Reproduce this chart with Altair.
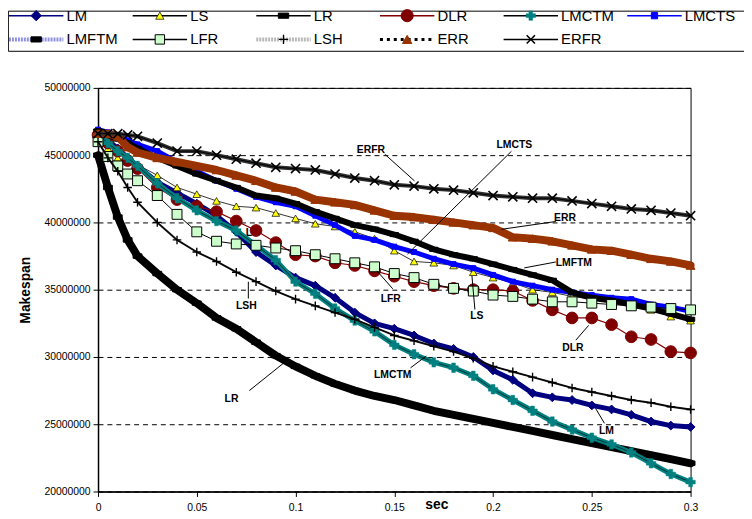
import altair as alt
import pandas as pd

FONT = "Liberation Sans"

# time (sec)
T = [0, 0.005, 0.01, 0.015, 0.02, 0.03, 0.04, 0.05, 0.06, 0.07, 0.08, 0.09, 0.10,
     0.11, 0.12, 0.13, 0.14, 0.15, 0.16, 0.17, 0.18, 0.19, 0.20, 0.21, 0.22, 0.23,
     0.24, 0.25, 0.26, 0.27, 0.28, 0.29, 0.30]

# makespan, in millions
LM = [46.7, 46.1, 45.5, 44.8, 44.2, 43.0, 42.2, 41.4, 40.5, 39.3, 37.8, 36.8, 35.9,
      35.3, 34.4, 33.3, 32.5, 32.1, 31.6, 31.0, 30.6, 30.0, 29.0, 28.3, 27.3, 27.0,
      26.8, 26.4, 26.1, 25.7, 25.2, 24.9, 24.8]
LS = [46.3, 45.5, 44.8, 44.5, 44.3, 43.5, 42.6, 42.1, 41.6, 41.2, 41.1, 40.7, 40.3,
      39.9, 39.7, 39.3, 38.8, 37.9, 37.1, 37.0, 36.8, 36.3, 35.9, 35.5, 35.0, 34.8,
      34.5, 34.3, 34.1, 33.8, 33.5, 33.0, 32.7]
LR = [45.0, 42.6, 40.4, 38.7, 37.5, 36.2, 35.0, 34.0, 32.9, 32.1, 31.1, 30.1, 29.3,
      28.6, 28.0, 27.5, 27.1, 26.8, 26.4, 26.0, 25.7, 25.4, 25.1, 24.8, 24.5, 24.2,
      23.9, 23.6, 23.3, 23.0, 22.7, 22.4, 22.1]
DLR = [46.5, 45.9, 45.3, 44.6, 44.0, 42.6, 41.7, 41.2, 40.8, 40.1, 39.4, 38.5, 37.6,
       37.5, 37.0, 36.8, 36.4, 36.0, 35.6, 35.3, 35.1, 35.0, 35.0, 34.9, 34.2, 33.5,
       32.9, 32.9, 32.4, 31.5, 31.3, 30.4, 30.3]
LMCTM = [46.5, 45.9, 45.3, 44.8, 44.2, 42.9, 41.8, 40.9, 40.1, 39.4, 38.3, 37.2, 35.6,
         34.7, 33.6, 32.7, 31.9, 30.9, 30.2, 29.6, 29.2, 28.6, 27.6, 26.8, 26.0, 25.2,
         24.6, 24.0, 23.5, 22.9, 22.1, 21.3, 20.7]
LMCTS = [46.9, 46.7, 46.4, 46.1, 45.8, 45.3, 44.5, 43.8, 43.1, 42.5, 41.9, 41.5, 41.2,
         40.5, 39.8, 39.0, 38.7, 38.2, 37.8, 37.3, 36.9, 36.6, 36.1, 35.6, 35.3, 35.0,
         34.8, 34.6, 34.4, 34.3, 33.9, 33.7, 33.4]
LMFTM = [46.8, 46.5, 46.2, 45.9, 45.5, 44.8, 44.2, 43.6, 43.1, 42.6, 42.0, 41.8, 41.4,
         40.8, 40.3, 39.8, 39.5, 39.1, 38.6, 38.0, 37.6, 37.3, 36.9, 36.5, 36.1, 35.7,
         34.8, 34.4, 34.2, 33.9, 33.6, 33.2, 32.8]
LFR = [46.0, 44.9, 44.2, 43.6, 43.1, 42.0, 40.6, 39.3, 38.6, 38.4, 38.3, 38.1, 37.9,
       37.6, 37.3, 37.0, 36.7, 36.2, 35.9, 35.4, 35.1, 34.9, 34.6, 34.5, 34.3, 34.1,
       34.1, 34.0, 33.9, 33.8, 33.7, 33.6, 33.5]
LSH = [46.0, 44.8, 43.8, 42.6, 41.5, 40.0, 38.7, 37.8, 37.1, 36.3, 35.6, 34.9, 34.3,
       33.8, 33.3, 32.8, 32.2, 31.6, 31.2, 30.8, 30.4, 29.9, 29.3, 28.9, 28.5, 28.1,
       27.7, 27.4, 27.1, 26.8, 26.6, 26.3, 26.1]
ERR = [46.6, 46.6, 46.4, 45.6, 45.2, 44.8, 44.5, 44.2, 43.9, 43.5, 43.1, 42.6, 42.3,
       41.7, 41.5, 41.3, 40.9, 40.5, 40.4, 40.2, 40.0, 39.8, 39.6, 38.9, 38.8, 38.6,
       38.3, 38.0, 37.9, 37.6, 37.3, 37.1, 36.8]
ERFR = [46.6, 46.6, 46.6, 46.5, 46.4, 45.9, 45.3, 45.3, 45.0, 44.7, 44.4, 44.1, 44.0,
        43.9, 43.6, 43.3, 43.1, 42.8, 42.7, 42.5, 42.4, 42.2, 42.0, 41.9, 41.8, 41.8,
        41.6, 41.4, 41.2, 41.0, 40.9, 40.7, 40.5]

SERIES = ["LM", "LS", "LR", "DLR", "LMCTM", "LMCTS", "LMFTM", "LFR", "LSH", "ERR", "ERFR"]
VALUES = [LM, LS, LR, DLR, LMCTM, LMCTS, LMFTM, LFR, LSH, ERR, ERFR]

X_TICKS = [0, 0.05, 0.1, 0.15, 0.2, 0.25, 0.3]
Y_TICKS = [20000000, 25000000, 30000000, 35000000, 40000000, 45000000, 50000000]

# in-plot labels (position in sec / millions) and their leader lines
ANN_LABELS = ["ERFR", "LMCTS", "ERR", "LMFTM", "LS", "LFR", "DLR", "LSH", "LR", "LMCTM", "LM"]
ANN_T = [0.1382, 0.2108, 0.2364, 0.2409, 0.1918, 0.1482, 0.2404, 0.0751, 0.0676, 0.1492, 0.2574]
ANN_V = [45.37, 45.74, 40.29, 36.99, 33.02, 34.34, 30.66, 33.75, 26.91, 28.68, 24.49]
LEAD_T1 = [0.1452, 0.2093, 0.2318, 0.2318, 0.1908, 0.1492, 0.2419, 0.0761, 0.0766, 0.1582, 0.2564]
LEAD_V1 = [45.07, 45.29, 40.07, 37.06, 33.53, 35.07, 31.25, 34.34, 27.50, 29.19, 25.07]
LEAD_T2 = [0.1602, 0.1567, 0.2043, 0.2158, 0.1893, 0.1412, 0.2484, 0.0761, 0.0941, 0.1662, 0.2519]
LEAD_V2 = [43.09, 37.65, 39.49, 36.62, 36.03, 36.40, 32.35, 35.59, 29.56, 30.07, 26.18]
HIDDEN_LABEL = ["LS"]
HIDDEN_T = [0.0781]
HIDDEN_V = [39.19]

X_PATH = "M-1,-1L1,1M-1,1L1,-1"
PLUS_PATH = "M-1,0L1,0M0,-1L0,1"
RECT_PATH = "M-1,-0.5L1,-0.5L1,0.5L-1,0.5Z"

STYLE = {
    "LM": dict(band="#000080", bw=5, line="#000080", lw=1, shape="diamond", fill="#000080",
               stroke="#000080", size=80, sw=1, lcol="#000080", lwid=1.5, ldash=None, lsize=110),
    "LS": dict(band=None, line="black", lw=0.8, shape="triangle-up", fill="#FFFF00",
               stroke="black", size=60, sw=0.7, lcol="black", lwid=1.5, ldash=None, lsize=70),
    "LR": dict(band="black", bw=8, line="black", lw=1, shape=RECT_PATH, fill="black",
               stroke="black", size=80, sw=1, lcol="black", lwid=1.5, ldash=None, lsize=110),
    "DLR": dict(band=None, line="#800000", lw=1.2, shape="circle", fill="#800000",
                stroke="#800000", size=140, sw=1, lcol="#800000", lwid=1.5, ldash=None, lsize=150),
    "LMCTM": dict(band="#008080", bw=5, line="black", lw=0.6, shape="cross", fill="#008080",
                  stroke="#008080", size=90, sw=0.5, lcol="black", lwid=1.5, ldash=None, lsize=90),
    "LMCTS": dict(band="#0000FF", bw=5, line="#0000FF", lw=1, shape="square", fill="#0000FF",
                  stroke="#0000FF", size=25, sw=1, lcol="#0000FF", lwid=1.5, ldash=None, lsize=40),
    "LMFTM": dict(band="black", bw=6, line="black", lw=1, shape=RECT_PATH, fill="black",
                  stroke="black", size=70, sw=1, lcol="#9090E0", lwid=4, ldash=[2, 1], lsize=110),
    "LFR": dict(band=None, line="black", lw=1, shape="square", fill="#CCFFCC",
                stroke="black", size=100, sw=1, lcol="black", lwid=1.5, ldash=None, lsize=90),
    "LSH": dict(band="#202020", bw=2, line="black", lw=1, shape=PLUS_PATH, fill=None,
                stroke="black", size=75, sw=1.4, lcol="#B8B8B8", lwid=4, ldash=[2, 1], lsize=90),
    "ERR": dict(band="#993300", bw=8, line="#993300", lw=1, shape="triangle-up", fill="#993300",
                stroke="#993300", size=80, sw=1, lcol="black", lwid=3, ldash=[3, 4], lsize=90),
    "ERFR": dict(band="#303030", bw=4, line="black", lw=1, shape=X_PATH, fill=None,
                 stroke="black", size=85, sw=1.6, lcol="black", lwid=1.5, ldash=None, lsize=70),
}

XS = alt.Scale(domain=[0, 0.3], nice=False, zero=False)
YS = alt.Scale(domain=[20000000, 50000000], nice=False, zero=False)

x_axis = alt.Axis(values=X_TICKS, format="~g", grid=False, tickSize=5, tickColor="black",
                  labelFontSize=10.5, labelColor="black", labelFont=FONT, labelPadding=6,
                  labelFlush=False, domainColor="black", domainWidth=1.5, title="sec",
                  titleFont=FONT, titleFontSize=14, titleFontWeight="bold", titleColor="black",
                  titleX=342, titleY=13, titleBaseline="middle", titleAlign="center")
y_axis = alt.Axis(values=Y_TICKS, format="d", grid=True, gridColor="black", gridDash=[5, 4],
                  gridWidth=1, tickSize=5, tickColor="black", labelFontSize=10.5,
                  labelColor="black", labelFont=FONT, labelPadding=3, domainColor="black",
                  domainWidth=1.5, title="Makespan", titleFont=FONT, titleFontSize=14,
                  titleFontWeight="bold", titleColor="black", titleX=-73, titleY=204,
                  titleBaseline="middle", titleAlign="center", titleAngle=270)


def xy(tf="t", vf="v"):
    return dict(x=alt.X(f"{tf}:Q", scale=XS, axis=x_axis),
                y=alt.Y(f"{vf}:Q", scale=YS, axis=y_axis))


main_layers = []

hid = pd.DataFrame({"label": HIDDEN_LABEL, "t": HIDDEN_T, "v": [v * 1e6 for v in HIDDEN_V]})
main_layers.append(alt.Chart(hid).mark_text(font=FONT, fontSize=10.5, fontWeight="bold",
                                            color="black").encode(text="label:N", **xy()))

for name, vals in zip(SERIES, VALUES):
    st = STYLE[name]
    d = alt.Chart(pd.DataFrame({"t": T, "v": [v * 1e6 for v in vals]}))
    if st["band"]:
        main_layers.append(d.mark_line(color=st["band"], strokeWidth=st["bw"],
                                       strokeJoin="round", strokeCap="round").encode(**xy()))
    main_layers.append(d.mark_line(color=st["line"], strokeWidth=st["lw"]).encode(**xy()))
    if st["fill"]:
        pm = d.mark_point(shape=st["shape"], size=st["size"], filled=True, fill=st["fill"],
                          stroke=st["stroke"], strokeWidth=st["sw"], opacity=1)
    else:
        pm = d.mark_point(shape=st["shape"], size=st["size"], filled=False,
                          stroke=st["stroke"], strokeWidth=st["sw"], opacity=1)
    main_layers.append(pm.encode(**xy()))

ann = pd.DataFrame({"label": ANN_LABELS, "t": ANN_T, "v": [v * 1e6 for v in ANN_V],
                    "t1": LEAD_T1, "v1": [v * 1e6 for v in LEAD_V1],
                    "t2": LEAD_T2, "v2": [v * 1e6 for v in LEAD_V2]})
main_layers.append(alt.Chart(ann).mark_rule(color="black", strokeWidth=1).encode(
    x2="t2:Q", y2="v2:Q", **xy("t1", "v1")))
main_layers.append(alt.Chart(ann).mark_text(font=FONT, fontSize=10.5, fontWeight="bold",
                                            color="black").encode(text="label:N", **xy()))

main = alt.layer(*main_layers)

# legend: 6 columns x 2 rows
LX = alt.Scale(domain=[0, 6], range=[-90, 660])
LY = alt.Scale(domain=[0, 1], range=[-73, -49])
leg = pd.DataFrame({"name": SERIES})
leg["col"] = [i % 6 for i in range(len(SERIES))]
leg["row"] = [i // 6 for i in range(len(SERIES))]
leg["xa"] = leg["col"]
leg["xb"] = leg["col"] + 0.44
leg["xm"] = leg["col"] + 0.22
leg["xt"] = leg["col"] + 0.465

box = pd.DataFrame({"x1": [-0.005], "x2": [6.5], "y1": [-0.19], "y2": [1.5]})
leg_layers = [alt.Chart(box).mark_rect(fill="white", stroke="black", strokeWidth=1).encode(
    x=alt.X("x1:Q", scale=LX, axis=None), x2="x2:Q",
    y=alt.Y("y1:Q", scale=LY, axis=None), y2="y2:Q")]
for name in SERIES:
    st = STYLE[name]
    d = alt.Chart(leg[leg["name"] == name])
    rule_kw = dict(color=st["lcol"], strokeWidth=st["lwid"])
    if st["ldash"]:
        rule_kw["strokeDash"] = st["ldash"]
    leg_layers.append(d.mark_rule(**rule_kw).encode(
        x=alt.X("xa:Q", scale=LX, axis=None), x2="xb:Q",
        y=alt.Y("row:Q", scale=LY, axis=None)))
    if st["fill"]:
        pm = d.mark_point(shape=st["shape"], size=st["lsize"], filled=True, fill=st["fill"],
                          stroke=st["stroke"], strokeWidth=st["sw"], opacity=1)
    else:
        pm = d.mark_point(shape=st["shape"], size=st["lsize"], filled=False,
                          stroke=st["stroke"], strokeWidth=st["sw"], opacity=1)
    leg_layers.append(pm.encode(x=alt.X("xm:Q", scale=LX, axis=None),
                                y=alt.Y("row:Q", scale=LY, axis=None)))
leg_layers.append(alt.Chart(leg).mark_text(font=FONT, fontSize=15, align="left",
                                           baseline="middle", color="black").encode(
    x=alt.X("xt:Q", scale=LX, axis=None), y=alt.Y("row:Q", scale=LY, axis=None),
    text="name:N"))
legend = alt.layer(*leg_layers)

chart = alt.layer(main, legend).resolve_scale(x="independent", y="independent").properties(
    width=599, height=408,
    autosize=alt.AutoSizeParams(type="none"),
    padding={"left": 91, "top": 78, "right": 54, "bottom": 22},
).configure_view(stroke="black", strokeWidth=1)

chart.save("out.html", embed_options={"renderer": "svg", "actions": False})
